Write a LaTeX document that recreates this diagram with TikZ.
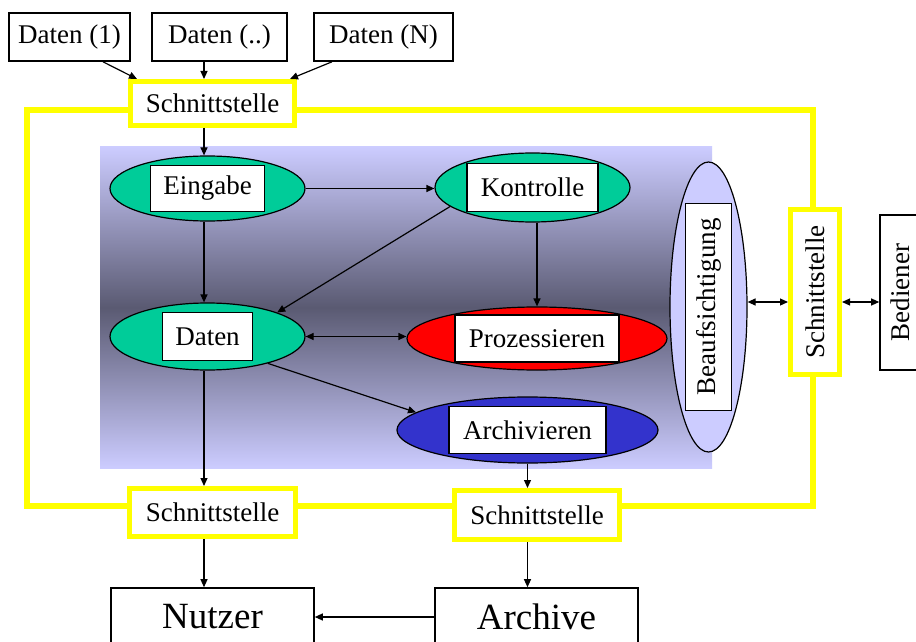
\documentclass[tikz,border=0pt]{standalone}
\usepackage{fontspec}
\setmainfont{Liberation Serif}
\usetikzlibrary{arrows.meta,shapes.geometric,calc}
\definecolor{yel}{RGB}{255,255,0}
\definecolor{grn}{RGB}{0,204,153}
\definecolor{rd}{RGB}{255,0,0}
\definecolor{blu}{RGB}{51,51,204}
\definecolor{lav}{RGB}{204,204,255}
\definecolor{darkband}{RGB}{90,90,114}
\begin{document}
\begin{tikzpicture}[x=0.5pt,y=-0.5pt,
  font=\fontsize{13.5}{16}\selectfont,
  bbox/.style={draw=black, line width=0.8pt, fill=white, inner sep=0pt},
  ybox/.style={draw=yel, line width=2.5pt, fill=white, inner sep=0pt},
  ell/.style={ellipse, draw=black, line width=0.6pt, inner sep=0pt},
  tbox/.style={draw=black, line width=0.8pt, fill=white, inner sep=0pt},
  conn/.style={-{Triangle[length=4pt,width=3.5pt]}, line width=0.6pt},
  dconn/.style={{Triangle[length=4pt,width=3.5pt]}-{Triangle[length=4pt,width=3.5pt]}, line width=0.6pt},
  bigfont/.style={font=\fontsize{18.5}{22}\selectfont}]
\useasboundingbox (0,0) rectangle (916,642);
\clip (0,0) rectangle (916,642);
\fill[white] (0,0) rectangle (916,642);

% gradient background
\shade[top color=lav, bottom color=lav, middle color=darkband] (100,147) rectangle (712,468);

% yellow frame
\draw[yel, line width=3pt] (27,110) rectangle (813,506);

% top data boxes
\node[bbox, minimum width=60.5pt, minimum height=24pt] (d1) at (69.5,37) {Daten (1)};
\node[bbox, minimum width=67.5pt, minimum height=24pt] (d2) at (219.5,37) {Daten (..)};
\node[bbox, minimum width=69.5pt, minimum height=24pt] (dn) at (383.5,37) {Daten (N)};

% interfaces
\node[ybox, minimum width=82pt, minimum height=22pt] (s1) at (212.5,103.5) {Schnittstelle};
\node[ybox, minimum width=83pt, minimum height=24pt] (s2) at (212.5,512.5) {Schnittstelle};
\node[ybox, minimum width=82.5pt, minimum height=24.5pt] (s3) at (537,515) {Schnittstelle};
\node[ybox, rotate=90, minimum width=82.5pt, minimum height=24.5pt] (s4) at (815,292) {Schnittstelle};

% process ellipses
\node[ell, fill=grn, minimum width=97.5pt, minimum height=32.5pt] (ein) at (207.5,188.5) {};
\node[tbox, minimum width=57pt, minimum height=23pt] (eint) at (ein) {Eingabe};
\node[ell, fill=grn, minimum width=97.5pt, minimum height=33.5pt] (dat) at (207.5,336.5) {};
\node[tbox, minimum width=45pt, minimum height=24pt] (datt) at (dat) {Daten};
\node[ell, fill=grn, minimum width=97.5pt, minimum height=34.5pt] (kon) at (532.5,187.5) {};
\node[tbox, minimum width=65.5pt, minimum height=24pt] (kont) at (kon) {Kontrolle};
\node[ell, fill=rd, minimum width=130pt, minimum height=31.5pt] (pro) at (537,338.5) {};
\node[tbox, minimum width=82pt, minimum height=23.5pt] (prot) at (pro) {Prozessieren};
\node[ell, fill=blu, minimum width=130.5pt, minimum height=33pt] (arch) at (527.5,430) {};
\node[tbox, minimum width=78.5pt, minimum height=23.5pt] (archt) at (arch) {Archivieren};
\node[ell, fill=lav, minimum width=38.5pt, minimum height=145pt] (beau) at (708.5,307) {};
\node[tbox, rotate=90, minimum width=103.5pt, minimum height=23pt] (beaut) at (beau) {Beaufsichtigung};

% outside boxes
\node[bbox, rotate=90, minimum width=77.5pt, minimum height=27pt] (bed) at (907,292.5) {};
\node[rotate=90, inner sep=0pt] (bedt) at (900,292.5) {Bediener};
\node[bbox, bigfont, minimum width=101.5pt, minimum height=29pt] (nut) at (212.5,617) {Nutzer};
\node[bbox, bigfont, minimum width=101.5pt, minimum height=29pt] (arcv) at (536.5,617) {Archive};

% columns
\coordinate (colA) at (204,0);
\coordinate (colB) at (537,0);
\coordinate (colC) at (527.5,0);

% connectors
\draw[conn] ([xshift=16.75pt]d1.south) -- ([xshift=-37.75pt]s1.north);
\draw[conn] (colA |- d2.south) -- (colA |- s1.north);
\draw[conn] ([xshift=-25.75pt]dn.south) -- ([xshift=38.75pt]s1.north);
\draw[conn] (colA |- s1.south) -- (colA |- ein.north);
\draw[conn] (ein.east) -- (ein.east -| kon.west);
\draw[conn] (colA |- ein.south) -- (colA |- dat.north);
\draw[conn] (kon.193) -- (dat.19);
\draw[conn] (colB |- kon.south) -- (pro.north);
\draw[dconn] (dat.east) -- (dat.east -| pro.west);
\draw[conn] (dat.-24) -- (arch.171);
\draw[conn] (colA |- dat.south) -- (colA |- s2.north);
\draw[conn] (arch.south) -- (colC |- s3.north);
\draw[conn] (colA |- s2.south) -- (colA |- nut.north);
\draw[conn] (colC |- s3.south) -- (colC |- arcv.north);
\draw[conn] (arcv.west) -- (nut.east);
\path ($(beau.east)+(0,-5)$) coordinate (bq);
\draw[dconn] (bq) -- (bq -| s4.north);
\draw[dconn] (bq -| s4.south) -- (bq -| bed.north);
\end{tikzpicture}
\end{document}
